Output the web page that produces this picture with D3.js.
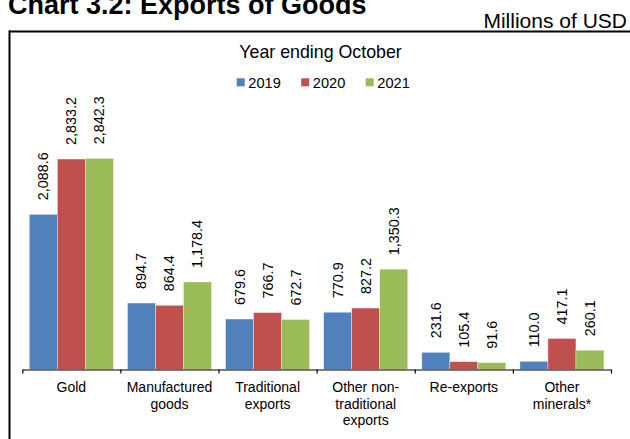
<!DOCTYPE html>
<html>
<head>
<meta charset="utf-8">
<script src="https://cdn.jsdelivr.net/npm/d3@7"></script>
<style>
  html, body { margin: 0; padding: 0; background: #fff; }
  svg { display: block; }
  text { font-family: "Liberation Sans", Arial, Helvetica, sans-serif; fill: #000; }
</style>
</head>
<body>
<svg id="chart" width="630" height="439"></svg>
<script>
// Exports of goods by category, year ending October (millions of USD)
const categories = [
  ["Gold"],
  ["Manufactured", "goods"],
  ["Traditional", "exports"],
  ["Other non-", "traditional", "exports"],
  ["Re-exports"],
  ["Other", "minerals*"]
];
const years = ["2019", "2020", "2021"];
const values2019 = [2088.6, 894.7, 679.6, 770.9, 231.6, 110.0];
const values2020 = [2833.2, 864.4, 766.7, 827.2, 105.4, 417.1];
const values2021 = [2842.3, 1178.4, 672.7, 1350.3, 91.6, 260.1];
const colors = ["#4F81BD", "#C0504D", "#9BBB59"];

const seriesValues = [values2019, values2020, values2021];
const catKeys = categories.map(c => c.join(" "));

const svg = d3.select("#chart");

// Layout
const axisY = 369.5, plotTop = 109.5;
const axisLeft = 22.3, axisRight = 611;

const x = d3.scaleBand().domain(catKeys).range([axisLeft, axisRight]).paddingInner(0).paddingOuter(0);
const xs = d3.scaleBand().domain(years).range([0, x.bandwidth()]).paddingInner(0).paddingOuter(0.252);
const y = d3.scaleLinear().domain([0, 3500]).range([axisY, plotTop]);
const color = d3.scaleOrdinal().domain(years).range(colors);
const fmt = d3.format(",.1f");

// Heading
svg.append("text")
  .attr("x", 8).attr("y", 14)
  .style("font-size", "27px").style("font-weight", "bold")
  .text("Chart 3.2: Exports of Goods");

svg.append("text")
  .attr("x", 627).attr("y", 27.5)
  .attr("text-anchor", "end")
  .style("font-size", "21px")
  .text("Millions of USD");

// Chart frame (top and left edges visible)
svg.append("line").attr("x1", 9).attr("x2", 630).attr("y1", 31.5).attr("y2", 31.5)
  .attr("stroke", "#000").attr("stroke-width", 2);
svg.append("line").attr("x1", 9.5).attr("x2", 9.5).attr("y1", 30.5).attr("y2", 439)
  .attr("stroke", "#000").attr("stroke-width", 2);

// Legend
svg.append("text")
  .attr("x", 320.5).attr("y", 57.7)
  .attr("text-anchor", "middle")
  .style("font-size", "17.8px")
  .text("Year ending October");

const legend = svg.append("g").selectAll("g").data(years).join("g")
  .attr("transform", (d, i) => `translate(${236.7 + i * 64.5},0)`);
legend.append("rect")
  .attr("x", 0).attr("y", 78.3).attr("width", 8).attr("height", 8)
  .attr("fill", d => color(d));
legend.append("text")
  .attr("x", 11.6).attr("y", 88.3)
  .style("font-size", "14.6px")
  .text(d => d);

// Bars
const rows = catKeys.map((c, ci) => years.map((yr, si) => ({ cat: c, year: yr, value: seriesValues[si][ci] })));

const groups = svg.append("g").selectAll("g").data(rows).join("g")
  .attr("transform", d => `translate(${x(d[0].cat)},0)`);

groups.selectAll("rect").data(d => d).join("rect")
  .attr("x", d => xs(d.year))
  .attr("width", xs.bandwidth())
  .attr("y", d => y(d.value))
  .attr("height", d => axisY - y(d.value))
  .attr("fill", d => color(d.year))
  .attr("stroke", "rgba(255,255,255,0.6)")
  .attr("stroke-width", 0.6);

// Value labels, rotated
groups.selectAll("text.val").data(d => d).join("text")
  .attr("class", "val")
  .attr("transform", d => `translate(${xs(d.year) + xs.bandwidth() / 2 + 5},${y(d.value) - 14}) rotate(-90)`)
  .style("font-size", "14.4px")
  .text(d => fmt(d.value));

// Category axis with ticks at band boundaries
const tickScale = d3.scaleLinear().domain([0, categories.length]).range([axisLeft, axisRight]);
svg.append("g")
  .attr("transform", `translate(0,${axisY})`)
  .call(d3.axisBottom(tickScale).tickValues(d3.range(categories.length + 1))
    .tickSize(4).tickSizeOuter(0).tickFormat(""))
  .call(g => g.selectAll("path,line").attr("stroke", "#000").attr("stroke-width", 1.2));

// Category labels
const catLabels = svg.append("g").selectAll("text").data(categories).join("text")
  .attr("text-anchor", "middle")
  .style("font-size", "14px")
  .attr("transform", (d, i) => `translate(${x(catKeys[i]) + x.bandwidth() / 2},392)`);
catLabels.selectAll("tspan").data(d => d).join("tspan")
  .attr("x", 0)
  .attr("y", (d, i) => i * 16.6)
  .text(d => d);
</script>
</body>
</html>
